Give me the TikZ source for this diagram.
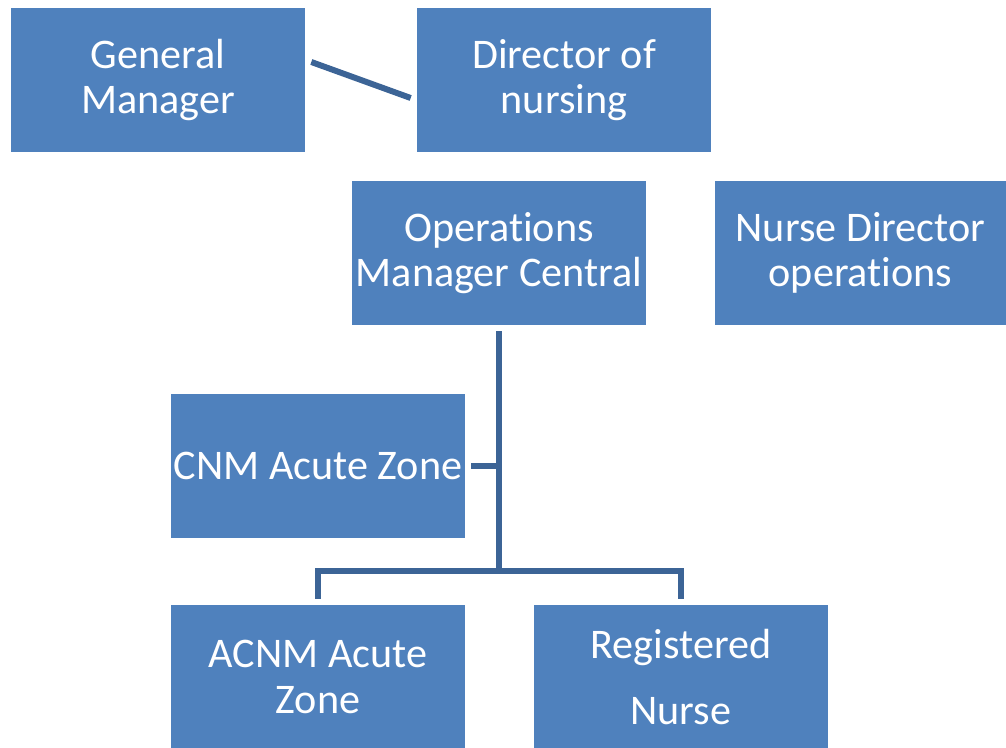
\documentclass[tikz,border=0pt]{standalone}
\usepackage{fontspec}
\setmainfont{Carlito}[RawFeature={-liga;-calt;-dlig;-clig}]
\usetikzlibrary{positioning, calc}
\definecolor{boxblue}{HTML}{4F81BD}
\definecolor{lineblue}{HTML}{3C6496}

\begin{document}
\begin{tikzpicture}[x=0.02cm, y=-0.02cm,
    box/.style={fill=boxblue, text=white, minimum width=5.88cm, minimum height=2.88cm,
        align=center, inner sep=0pt, font=\fontsize{24}{26}\selectfont},
    link/.style={draw=lineblue, line width=3.4pt}]
    \useasboundingbox (0,0) rectangle (1006,747);
    \node[box] (gm) at (158,80) {General\\Manager};
    \node[box] (don) at (564,80) {Director of\\nursing};
    \node[box] (ops) at (499,253) {Operations\\Manager Central};
    \node[box, minimum width=5.82cm] (nd) at (860.5,253) {Nurse Director\\operations};
    \node[box] (cnm) at (318,466) {CNM Acute Zone};
    \node[box] (acnm) at (318,677) {ACNM Acute\\Zone};
    \node[box] (rn) at (681,677) {Registered\\[11pt]Nurse};
    \draw[link] ($(gm.east)+(6,-18)$) -- ($(don.west)+(-6,18)$);
    \coordinate (split) at ($(ops.south)+(0,246)$);
    \draw[link] ($(ops.south)+(0,6)$) -- (split);
    \draw[link] ($(cnm.east)+(6,0)$) -- (cnm.east -| split);
    \draw[link] ($(acnm.north)+(0,-6)$) |- (split) -| ($(rn.north)+(0,-6)$);
\end{tikzpicture}
\end{document}
